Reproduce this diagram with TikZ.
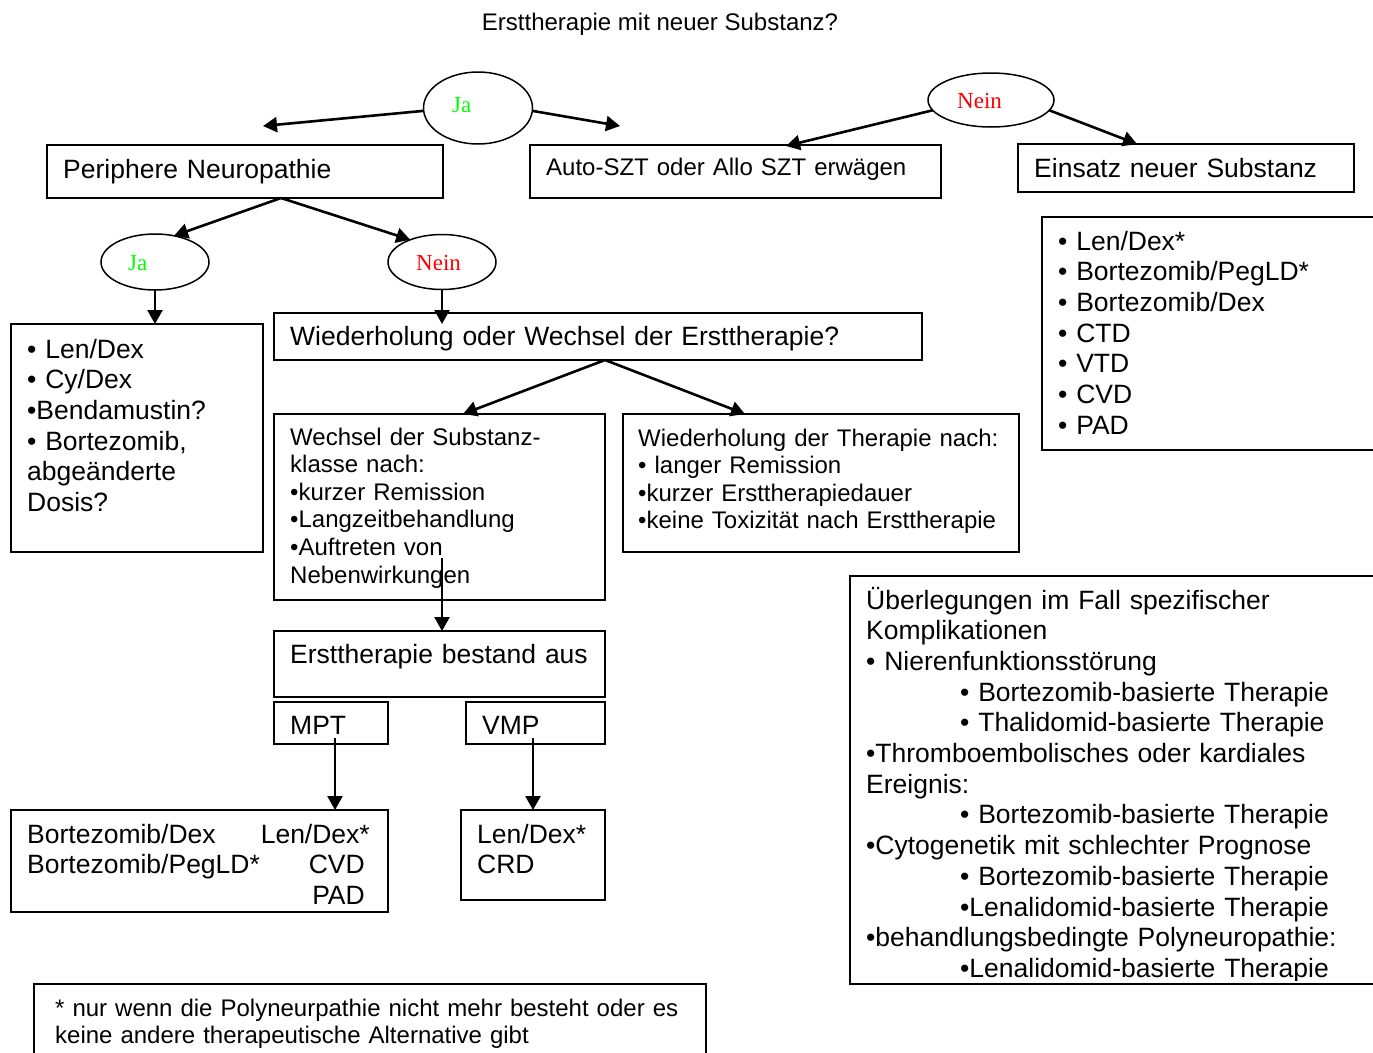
\documentclass[tikz,border=0pt]{standalone}
\usepackage{fontspec}
\setmainfont{Liberation Sans}
\newfontfamily\timesfont{Liberation Serif}
\usepackage{tikz}
\usetikzlibrary{arrows.meta,shapes.geometric}
\definecolor{jagreen}{RGB}{0,255,0}
\definecolor{neinred}{RGB}{255,0,0}

\begin{document}
\begin{tikzpicture}[x=1pt,y=-1pt]

\tikzset{box/.style={draw,line width=1.5pt,rectangle,anchor=north west,inner sep=0pt,outer sep=0pt},
         oval/.style={draw,line width=1.5pt,ellipse,inner sep=0pt,outer sep=0pt},
         txt/.style={anchor=base west,inner sep=0pt,align=left,text width=900pt},
         bigtext/.style={font=\fontsize{26.5pt}{30.7pt}\selectfont},
         smalltext/.style={font=\fontsize{24pt}{27.6pt}\selectfont},
         answer/.style={anchor=base west,inner sep=0pt,font=\timesfont\fontsize{23pt}{27pt}\selectfont},
         flow/.style={line width=2.6pt,-{Triangle[length=14pt,width=15pt]}}}

\useasboundingbox (0,0) rectangle (1373,1052);

\node[anchor=base,inner sep=0pt,font=\fontsize{24pt}{28pt}\selectfont] (title) at (660,30) {Ersttherapie mit neuer Substanz?};

% first decision
\node[oval,minimum width=109pt,minimum height=72pt] (ja1) at (478,108) {};
\node[answer,text=jagreen] (ja1txt) at (452,112) {Ja};
\node[oval,minimum width=126pt,minimum height=54pt] (nein1) at (991,100) {};
\node[answer,text=neinred] (nein1txt) at (957,108) {Nein};

\node[box,minimum width=396pt,minimum height=53pt] (neuro) at (47,145) {};
\node[txt,bigtext] (neurotxt) at (63,178) {Periphere Neuropathie};
\node[box,minimum width=411pt,minimum height=53pt] (auto) at (530,145) {};
\node[txt,smalltext] (autotxt) at (546,175) {Auto-SZT oder Allo SZT erwägen};
\node[box,minimum width=336pt,minimum height=48pt] (einsatz) at (1018,144) {};
\node[txt,bigtext] (einsatztxt) at (1034,177) {Einsatz neuer Substanz};

\node[box,minimum width=360pt,minimum height=233pt] (newlist) at (1042,217) {};
\node[txt,bigtext] (newlisttxt) at (1058,250) {• Len/Dex*\\• Bortezomib/PegLD*\\• Bortezomib/Dex\\• CTD\\• VTD\\• CVD\\• PAD};

\coordinate (tipneuro) at (263,126);
\coordinate (tipauto) at (620,126);
\coordinate (tipauto2) at (786,146);
\coordinate (tipeinsatz) at (1137,144);
\draw[flow] (ja1.183) -- (tipneuro);
\draw[flow] (ja1.357) -- (tipauto);
\draw[flow] (nein1.190) -- (tipauto2);
\draw[flow] (nein1.350) -- (tipeinsatz);

% neuropathy branch
\node[oval,minimum width=108pt,minimum height=56pt] (ja2) at (155,262) {};
\node[answer,text=jagreen] (ja2txt) at (128,270) {Ja};
\node[oval,minimum width=108pt,minimum height=55pt] (nein2) at (442,262) {};
\node[answer,text=neinred] (nein2txt) at (416,270) {Nein};

\coordinate (nsplit) at (281,198);
\draw[flow] (nsplit) -- (ja2.54);
\draw[flow] (nsplit) -- (nein2.145);

\node[box,minimum width=252pt,minimum height=228pt] (leftlist) at (11,324) {};
\node[txt,bigtext] (leftlisttxt) at (27,358) {• Len/Dex\\• Cy/Dex\\•Bendamustin?\\• Bortezomib,\\abgeänderte\\Dosis?};
\node[box,minimum width=648pt,minimum height=47pt] (wied) at (274,313) {};
\node[txt,bigtext] (wiedtxt) at (290,345) {Wiederholung oder Wechsel der Ersttherapie?};

\draw[flow] (ja2.south) -- (ja2.south |- leftlist.north);
\draw[flow] (nein2.south) -- (nein2.south |- leftlist.north);

\node[box,minimum width=331pt,minimum height=186pt] (wechsel) at (274,414) {};
\node[txt,smalltext] (wechseltxt) at (290,445) {Wechsel der Substanz-\\klasse nach:\\•kurzer Remission\\•Langzeitbehandlung\\•Auftreten von\\Nebenwirkungen};
\node[box,minimum width=396pt,minimum height=138pt] (repeat) at (623,414) {};
\node[txt,smalltext] (repeattxt) at (638,446) {Wiederholung der Therapie nach:\\• langer Remission\\•kurzer Ersttherapiedauer\\•keine Toxizität nach Ersttherapie};

\coordinate (wsplit) at (605,360);
\coordinate (tipwechsel) at (463,414);
\coordinate (tiprepeat) at (745,414);
\draw[flow] (wsplit) -- (tipwechsel);
\draw[flow] (wsplit) -- (tiprepeat);

% first therapy
\node[box,minimum width=331pt,minimum height=66pt] (erst) at (274,631) {};
\node[txt,bigtext] (ersttxt) at (290,663) {Ersttherapie bestand aus};
\coordinate (wdown) at (442,558);
\draw[flow] (wdown) -- (wdown |- erst.north);

\node[box,minimum width=114pt,minimum height=42pt] (mpt) at (274,702) {};
\node[txt,bigtext] (mpttxt) at (290,734) {MPT};
\node[box,minimum width=139pt,minimum height=42pt] (vmp) at (466,702) {};
\node[txt,bigtext] (vmptxt) at (482,734) {VMP};

\node[box,minimum width=377pt,minimum height=102pt] (optmpt) at (11,810) {};
\node[txt,bigtext] (optmptl) at (27,843) {Bortezomib/Dex\\Bortezomib/PegLD*};
\node[anchor=base east,inner sep=0pt,align=right,text width=150pt,bigtext] (optmptr) at (370,843) {Len/Dex*\\CVD\kern5pt\\PAD\kern5pt};
\node[box,minimum width=144pt,minimum height=90pt] (optvmp) at (461,810) {};
\node[txt,bigtext] (optvmptxt) at (477,843) {Len/Dex*\\CRD};

\coordinate (mptdown) at (335,738);
\coordinate (vmpdown) at (533,738);
\draw[flow] (mptdown) -- (mptdown |- optmpt.north);
\draw[flow] (vmpdown) -- (vmpdown |- optvmp.north);

% complications
\node[box,minimum width=540pt,minimum height=408pt] (complic) at (850,576) {};
\begin{scope}
\clip (851,577) rectangle (1390,980);
\node[txt,bigtext] (complictxt) at (866,609) {Überlegungen im Fall spezifischer\\Komplikationen\\• Nierenfunktionsstörung\\\hspace*{94pt}• Bortezomib-basierte Therapie\\\hspace*{94pt}• Thalidomid-basierte Therapie\\•Thromboembolisches oder kardiales\\Ereignis:\\\hspace*{94pt}• Bortezomib-basierte Therapie\\•Cytogenetik mit schlechter Prognose\\\hspace*{94pt}• Bortezomib-basierte Therapie\\\hspace*{94pt}•Lenalidomid-basierte Therapie\\•behandlungsbedingte Polyneuropathie:\\\hspace*{94pt}•Lenalidomid-basierte Therapie};
\end{scope}

\node[box,minimum width=672pt,minimum height=90pt] (footnote) at (34,984) {};
\node[txt,smalltext] (footnotetxt) at (55,1016) {* nur wenn die Polyneurpathie nicht mehr besteht oder es\\keine andere therapeutische Alternative gibt};

\end{tikzpicture}
\end{document}
